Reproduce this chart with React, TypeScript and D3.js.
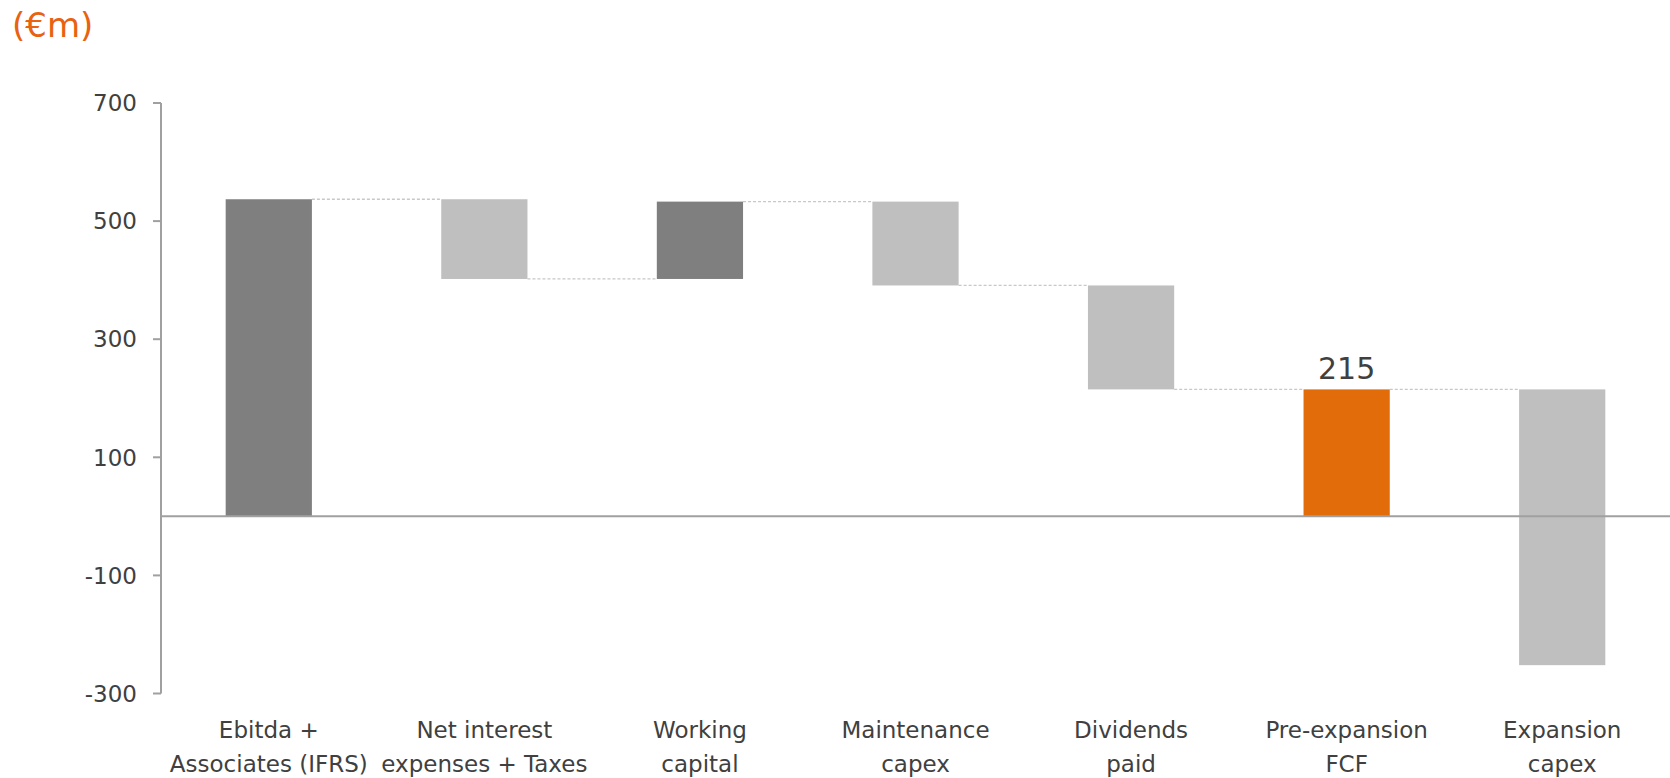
import React from "react";
import * as d3 from "d3";

// waterfall steps (€m)
const categories = [
  ["Ebitda +", "Associates (IFRS)"],
  ["Net interest", "expenses + Taxes"],
  ["Working", "capital"],
  ["Maintenance", "capex"],
  ["Dividends", "paid"],
  ["Pre-expansion", "FCF"],
  ["Expansion", "capex"],
];
const deltas = [537, -135, 131, -142, -176, 215, -467];
const kinds = ["total", "step", "step", "step", "step", "total", "step"];
const yTicks = [700, 500, 300, 100, -100, -300];
const labelled = [5];

const W = 1670;
const H = 778;
const font = "'DejaVu Sans', Verdana, sans-serif";

export default function App() {
  const axisX = 161;

  // running totals
  let run = 0;
  const bars = deltas.map((d, i) => {
    let y0, y1;
    if (kinds[i] === "total") {
      y0 = 0;
      y1 = d;
      run = d;
    } else {
      y0 = run;
      y1 = run + d;
      run = y1;
    }
    return { i, y0, y1, d, end: run };
  });

  const x = d3.scaleBand<number>()
    .domain(d3.range(categories.length))
    .range([axisX, W])
    .paddingInner(0.6)
    .paddingOuter(0.3);

  const y = d3.scaleLinear().domain([-300, 700]).range([693.5, 103]);

  const color = (b) => {
    if (b.i === 5) return "#e36c0a";
    if (kinds[b.i] === "total") return "#7f7f7f";
    return b.d > 0 ? "#7f7f7f" : "#bfbfbf";
  };

  return (
    <svg width={W} height={H} style={{ position: "absolute", left: 0, top: 0, display: "block" }}>
      <rect width={W} height={H} fill="#fff" />
      <text x={12} y={37} fontFamily={font} fontSize={34} fill="#e8620f">(€m)</text>

      {/* connectors */}
      {bars.slice(0, -1).map((b) => {
        const next = bars[b.i + 1];
        const level = b.end;
        return (
          <line key={"c" + b.i}
            x1={x(b.i) + x.bandwidth()} x2={x(next.i)}
            y1={y(level)} y2={y(level)}
            stroke="#c8c8c8" strokeWidth={1.3} strokeDasharray="3 2" />
        );
      })}

      {bars.map((b) => (
        <rect key={b.i}
          x={x(b.i)} width={x.bandwidth()}
          y={y(Math.max(b.y0, b.y1))}
          height={Math.abs(y(b.y0) - y(b.y1))}
          fill={color(b)} />
      ))}

      {/* zero line */}
      <line x1={axisX} x2={W} y1={y(0)} y2={y(0)} stroke="#a0a0a0" strokeWidth={2} />

      {/* y axis */}
      <line x1={axisX} x2={axisX} y1={y(700)} y2={y(-300)} stroke="#a0a0a0" strokeWidth={2} />
      {yTicks.map((t) => (
        <g key={t}>
          <line x1={axisX - 8} x2={axisX} y1={y(t)} y2={y(t)} stroke="#a0a0a0" strokeWidth={2} />
          <text x={137} y={y(t)} dy="0.36em" textAnchor="end" fontFamily={font} fontSize={23} fill="#404040">{t}</text>
        </g>
      ))}

      {labelled.map((i) => (
        <text key={"l" + i} x={x(i) + x.bandwidth() / 2} y={y(bars[i].y1) - 10}
          textAnchor="middle" fontFamily={font} fontSize={30} fill="#404040">{bars[i].y1}</text>
      ))}

      {categories.map((lines, i) => (
        <text key={"cat" + i} textAnchor="middle" fontFamily={font} fontSize={23} fill="#404040">
          {lines.map((l, k) => (
            <tspan key={k} x={x(i) + x.bandwidth() / 2} y={738 + k * 34}>{l}</tspan>
          ))}
        </text>
      ))}
    </svg>
  );
}
